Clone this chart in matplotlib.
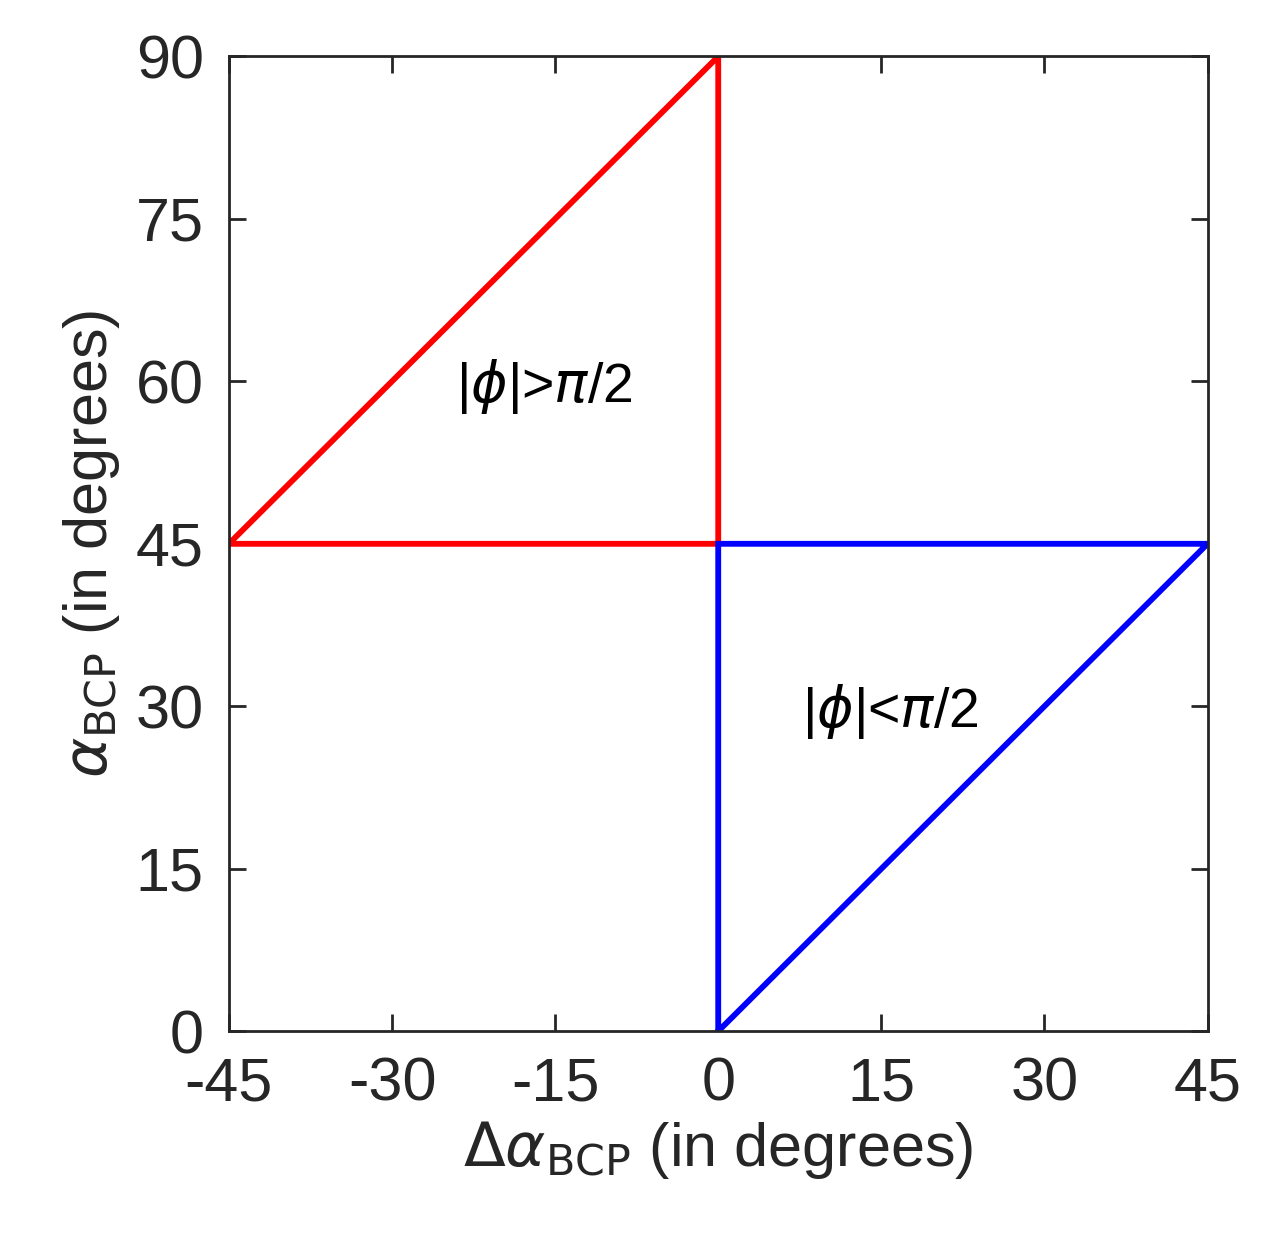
import matplotlib
matplotlib.use('Agg')
import matplotlib.pyplot as plt

# region outlines
red_x = [-45, 0, 0, -45]
red_y = [45, 90, 45, 45]
blue_x = [0, 45, 0, 0]
blue_y = [0, 45, 45, 0]

ticks_x = [-45, -30, -15, 0, 15, 30, 45]
ticks_y = [0, 15, 30, 45, 60, 75, 90]

plt.rcParams['font.family'] = ['Arial', 'Liberation Sans', 'DejaVu Sans']
plt.rcParams['mathtext.fontset'] = 'dejavusans'
plt.rcParams['axes.unicode_minus'] = False

fig = plt.figure(figsize=(12.86, 12.53), dpi=100)
ax = fig.add_axes([0.178, 0.177, 0.761, 0.778])

ax.plot(red_x, red_y, color='#ff0000', lw=4.2, solid_joinstyle='miter')
ax.plot(blue_x, blue_y, color='#0000ff', lw=4.2, solid_joinstyle='miter')

ax.text(-16, 59.5, r'|$\phi$|>$\pi$/2', fontsize=40, ha='center', va='center')
ax.text(15.8, 29.5, r'|$\phi$|<$\pi$/2', fontsize=40, ha='center', va='center')

ax.set_xlim(-45, 45)
ax.set_ylim(0, 90)
ax.set_xticks(ticks_x)
ax.set_yticks(ticks_y)
ax.tick_params(direction='in', length=12, width=2, top=True, right=True,
               labelsize=44, colors='#262626', pad=18)
for s in ax.spines.values():
    s.set_linewidth(2)
    s.set_color('#262626')

ax.set_xlabel(r'$\Delta\alpha_{\mathrm{BCP}}$ (in degrees)', fontsize=44, color='#262626', labelpad=4)
ax.set_ylabel(r'$\alpha_{\mathrm{BCP}}$ (in degrees)', fontsize=44, color='#262626', labelpad=10)

fig.savefig('out.png', dpi=100)
